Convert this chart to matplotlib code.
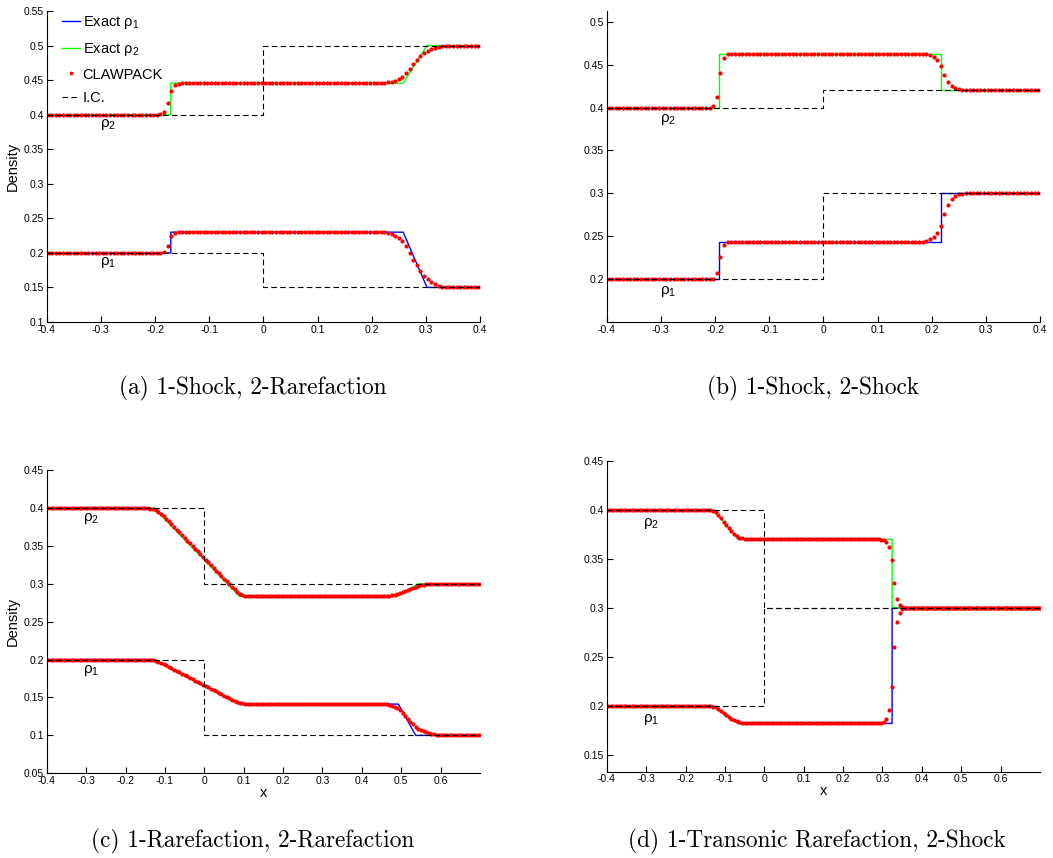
import numpy as np
import matplotlib
matplotlib.use('Agg')
from matplotlib import pyplot as plt

plt.rcParams['font.family'] = ['Liberation Sans', 'DejaVu Sans']
plt.rcParams['axes.unicode_minus'] = False
plt.rcParams['mathtext.default'] = 'regular'

dx = 1.0 / 150  # CLAWPACK cell width

# ---- (a) 1-Shock, 2-Rarefaction
a_xlim = (-0.4, 0.4)
a_ylim = (0.1, 0.55)
a_xticks = [-0.4, -0.3, -0.2, -0.1, 0, 0.1, 0.2, 0.3, 0.4]
a_yticks = [0.1, 0.15, 0.2, 0.25, 0.3, 0.35, 0.4, 0.45, 0.5, 0.55]
a_exact_x = [-0.4, -0.171, -0.171, 0.258, 0.302, 0.4]
a_exact_r1 = [0.2, 0.2, 0.23, 0.23, 0.15, 0.15]
a_exact_r2 = [0.4, 0.4, 0.4455, 0.4455, 0.5, 0.5]
a_ic_r1 = [0.2, 0.2, 0.15, 0.15]
a_ic_r2 = [0.4, 0.4, 0.5, 0.5]
a_claw_r1_states = [0.2, 0.23, 0.15]
a_claw_r1_waves = [(31, [0.2002, 0.2014, 0.2103, 0.2238, 0.2286, 0.2298]),
                   (93, [0.2296, 0.2286, 0.2272, 0.2248, 0.2214, 0.2166, 0.2093, 0.1997,
                         0.1901, 0.1818, 0.1737, 0.1667, 0.1616, 0.1578, 0.1544, 0.1525,
                         0.1510, 0.1505, 0.1502])]
a_claw_r2_states = [0.4, 0.4455, 0.5]
a_claw_r2_waves = [(31, [0.4004, 0.4036, 0.4175, 0.4348, 0.4426, 0.4449, 0.4454]),
                   (93, [0.4459, 0.4469, 0.4478, 0.4493, 0.4517, 0.4550, 0.4599, 0.4666,
                         0.4729, 0.4796, 0.4850, 0.4888, 0.4922, 0.4946, 0.4970, 0.4984,
                         0.4994])]

# ---- (b) 1-Shock, 2-Shock
b_xlim = (-0.4, 0.4)
b_ylim = (0.15, 0.5125)
b_xticks = [-0.4, -0.3, -0.2, -0.1, 0, 0.1, 0.2, 0.3, 0.4]
b_yticks = [0.2, 0.25, 0.3, 0.35, 0.4, 0.45, 0.5]
b_exact_x = [-0.4, -0.1927, -0.1927, 0.218, 0.218, 0.4]
b_exact_r1 = [0.2, 0.2, 0.2435, 0.2435, 0.3, 0.3]
b_exact_r2 = [0.4, 0.4, 0.4627, 0.4627, 0.42, 0.42]
b_ic_r1 = [0.2, 0.2, 0.3, 0.3]
b_ic_r2 = [0.4, 0.4, 0.42, 0.42]
b_claw_r1_states = [0.2, 0.2435, 0.3]
b_claw_r1_waves = [(29, [0.2005, 0.2070, 0.2260, 0.2395, 0.2430, 0.2434]),
                   (88, [0.2448, 0.2462, 0.2489, 0.2540, 0.2624, 0.2757, 0.2869, 0.2935,
                         0.2970, 0.2990, 0.2997])]
b_claw_r2_states = [0.4, 0.4627, 0.42]
b_claw_r2_waves = [(29, [0.4018, 0.4120, 0.4400, 0.4580, 0.4620, 0.4626]),
                   (88, [0.4624, 0.4612, 0.4585, 0.4550, 0.4484, 0.4383, 0.4298, 0.4251,
                         0.4228, 0.4216, 0.4208, 0.4203])]

# ---- (c) 1-Rarefaction, 2-Rarefaction
c_xlim = (-0.4, 0.7)
c_ylim = (0.05, 0.45)
c_xticks = [-0.4, -0.3, -0.2, -0.1, 0, 0.1, 0.2, 0.3, 0.4, 0.5, 0.6]
c_yticks = [0.05, 0.1, 0.15, 0.2, 0.25, 0.3, 0.35, 0.4, 0.45]
c_exact_x1 = [-0.4, -0.128, 0.0886, 0.4925, 0.5366, 0.7]
c_exact_x2 = [-0.4, -0.128, 0.0886, 0.4935, 0.5425, 0.7]
c_exact_r1 = [0.2, 0.2, 0.1413, 0.1413, 0.1, 0.1]
c_exact_r2 = [0.4, 0.4, 0.2838, 0.2838, 0.3, 0.3]
c_ic_r1 = [0.2, 0.2, 0.1, 0.1]
c_ic_r2 = [0.4, 0.4, 0.3, 0.3]
c_claw_r1_states = [0.2, 0.1413, 0.1]
c_claw_r1_waves = [(38, [0.1999, 0.1996, 0.1991, 0.1983, 0.1972, 0.1959, 0.1941, 0.1923,
                         0.1905, 0.1887, 0.1869, 0.1851, 0.1833, 0.1815, 0.1797, 0.1779,
                         0.1761, 0.1743, 0.1724, 0.1706, 0.1688, 0.1670, 0.1652, 0.1634,
                         0.1616, 0.1598, 0.1580, 0.1562, 0.1544, 0.1526, 0.1508, 0.1490,
                         0.1473, 0.1456, 0.1441, 0.1429, 0.1421, 0.1417, 0.1415, 0.1414]),
                   (128, [0.1411, 0.1408, 0.1402, 0.1393, 0.1379, 0.1358, 0.1330, 0.1295,
                          0.1256, 0.1216, 0.1178, 0.1144, 0.1115, 0.1091, 0.1071, 0.1055,
                          0.1041, 0.1029, 0.1019, 0.1012, 0.1006, 0.1003, 0.1001])]
c_claw_r2_states = [0.4, 0.2838, 0.3]
c_claw_r2_waves = [(37, [0.3999, 0.3997, 0.3992, 0.3983, 0.3968, 0.3948, 0.3924, 0.3892,
                         0.3857, 0.3821, 0.3786, 0.3750, 0.3714, 0.3678, 0.3642, 0.3606,
                         0.3570, 0.3534, 0.3498, 0.3462, 0.3426, 0.3390, 0.3354, 0.3318,
                         0.3282, 0.3246, 0.3210, 0.3174, 0.3138, 0.3102, 0.3066, 0.3030,
                         0.2995, 0.2960, 0.2926, 0.2895, 0.2870, 0.2853, 0.2845, 0.2841,
                         0.2839]),
                   (128, [0.2839, 0.2841, 0.2844, 0.2849, 0.2856, 0.2866, 0.2878, 0.2892,
                          0.2907, 0.2922, 0.2937, 0.2950, 0.2962, 0.2972, 0.2980, 0.2986,
                          0.2991, 0.2994, 0.2997, 0.2999])]

# ---- (d) 1-Transonic Rarefaction, 2-Shock
d_xlim = (-0.4, 0.7)
d_ylim = (0.133, 0.45)
d_xticks = [-0.4, -0.3, -0.2, -0.1, 0, 0.1, 0.2, 0.3, 0.4, 0.5, 0.6]
d_yticks = [0.15, 0.2, 0.25, 0.3, 0.35, 0.4, 0.45]
d_exact_x = [-0.4, -0.1295, -0.0661, 0.3244, 0.3244, 0.7]
d_exact_r1 = [0.2, 0.2, 0.1822, 0.1822, 0.3, 0.3]
d_exact_r2 = [0.4, 0.4, 0.37, 0.37, 0.3, 0.3]
d_ic_r1 = [0.2, 0.2, 0.3, 0.3]
d_ic_r2 = [0.4, 0.4, 0.3, 0.3]
d_claw_r1_states = [0.2, 0.1822, 0.3]
d_claw_r1_waves = [(38, [0.1999, 0.1998, 0.1994, 0.1986, 0.1970, 0.1950, 0.1930, 0.1910,
                         0.1890, 0.1872, 0.1856, 0.1843, 0.1833, 0.1828, 0.1825, 0.1823]),
                   (103, [0.1823, 0.1826, 0.1835, 0.1870, 0.1959, 0.2197, 0.2599, 0.2854,
                          0.2952, 0.2985, 0.2996])]
d_claw_r2_states = [0.4, 0.37, 0.3]
d_claw_r2_waves = [(38, [0.3999, 0.3997, 0.3990, 0.3976, 0.3950, 0.3916, 0.3882, 0.3848,
                         0.3815, 0.3784, 0.3757, 0.3735, 0.3719, 0.3710, 0.3705, 0.3702]),
                   (104, [0.3699, 0.3694, 0.3677, 0.3626, 0.3490, 0.3252, 0.3095, 0.3034,
                          0.3013, 0.3004])]

captions = ['(a) 1-Shock, 2-Rarefaction', '(b) 1-Shock, 2-Shock',
            '(c) 1-Rarefaction, 2-Rarefaction', '(d) 1-Transonic Rarefaction, 2-Shock']


def clawpack(n, states, waves):
    # piecewise constant states with the cell values across each wave
    q = np.empty(n)
    pos = 0
    for k, (i0, vals) in enumerate(waves):
        q[pos:i0] = states[k]
        q[i0:i0 + len(vals)] = vals
        pos = i0 + len(vals)
    q[pos:] = states[-1]
    return q


def draw(ax, xlim, ylim, xticks, yticks, ex1, er1, ex2, er2, ic1, ic2, cs1, cw1, cs2, cw2):
    n = int(round((xlim[1] - xlim[0]) / dx))
    xc = xlim[0] + (np.arange(n) + 0.5) * dx
    ax.plot(ex1, er1, color='#0000ff', lw=1.0, label=r'Exact $\rho_1$')
    ax.plot(ex2, er2, color='#00ff00', lw=1.0, label=r'Exact $\rho_2$')
    ax.plot(xc, clawpack(n, cs1, cw1), 'o', color='#ff0000', ms=3.0, mew=0,
            label='CLAWPACK')
    ax.plot(xc, clawpack(n, cs2, cw2), 'o', color='#ff0000', ms=3.0, mew=0)
    icx = [xlim[0], 0, 0, xlim[1]]
    ax.plot(icx, ic1, color='k', lw=0.8, dashes=(5, 3), label='I.C.')
    ax.plot(icx, ic2, color='k', lw=0.8, dashes=(5, 3))
    ax.text(-0.287, 0.386, r'$\rho_2$', fontsize=11, ha='center', va='center')
    ax.text(-0.287, 0.186, r'$\rho_1$', fontsize=11, ha='center', va='center')
    ax.set_xlim(xlim)
    ax.set_ylim(ylim)
    ax.set_xticks(xticks)
    ax.set_xticklabels(['%g' % t for t in xticks])
    ax.set_yticks(yticks)
    ax.set_yticklabels(['%g' % t for t in yticks])
    ax.spines['top'].set_visible(False)
    ax.spines['right'].set_visible(False)
    ax.tick_params(direction='in', length=4, width=0.8, labelsize=7.5, pad=2)


fig = plt.figure(figsize=(10.53, 8.58), dpi=100)

ax1 = fig.add_axes([0.0444, 0.6247, 0.4115, 0.3625])
draw(ax1, a_xlim, a_ylim, a_xticks, a_yticks, a_exact_x, a_exact_r1, a_exact_x, a_exact_r2,
     a_ic_r1, a_ic_r2, a_claw_r1_states, a_claw_r1_waves, a_claw_r2_states, a_claw_r2_waves)
ax1.set_ylabel('Density', fontsize=10.5, labelpad=3)
ax1.legend(loc='upper left', bbox_to_anchor=(0.022, 1.01), frameon=False, fontsize=10.5,
           handlelength=1.25, handletextpad=0.15, labelspacing=0.68, numpoints=1,
           borderaxespad=0, markerscale=0.9)

ax2 = fig.add_axes([0.5762, 0.6247, 0.4115, 0.3625])
draw(ax2, b_xlim, b_ylim, b_xticks, b_yticks, b_exact_x, b_exact_r1, b_exact_x, b_exact_r2,
     b_ic_r1, b_ic_r2, b_claw_r1_states, b_claw_r1_waves, b_claw_r2_states, b_claw_r2_waves)

ax3 = fig.add_axes([0.0444, 0.0987, 0.4115, 0.3535])
draw(ax3, c_xlim, c_ylim, c_xticks, c_yticks, c_exact_x1, c_exact_r1, c_exact_x2, c_exact_r2,
     c_ic_r1, c_ic_r2, c_claw_r1_states, c_claw_r1_waves, c_claw_r2_states, c_claw_r2_waves)
ax3.set_ylabel('Density', fontsize=10.5, labelpad=3)
ax3.set_xlabel('x', fontsize=10.5, labelpad=0)

ax4 = fig.add_axes([0.5762, 0.1006, 0.4115, 0.3621])
draw(ax4, d_xlim, d_ylim, d_xticks, d_yticks, d_exact_x, d_exact_r1, d_exact_x, d_exact_r2,
     d_ic_r1, d_ic_r2, d_claw_r1_states, d_claw_r1_waves, d_claw_r2_states, d_claw_r2_waves)
ax4.set_xlabel('x', fontsize=10.5, labelpad=0)

# captions under each panel
for (cx, cy), cap in zip([(253, 388), (813, 388), (253, 841), (817, 841)], captions):
    fig.text(cx / 1053, 1 - cy / 858, cap, family='cmr10', fontsize=16.8,
             ha='center', va='center')

fig.savefig('out.png', dpi=100)
